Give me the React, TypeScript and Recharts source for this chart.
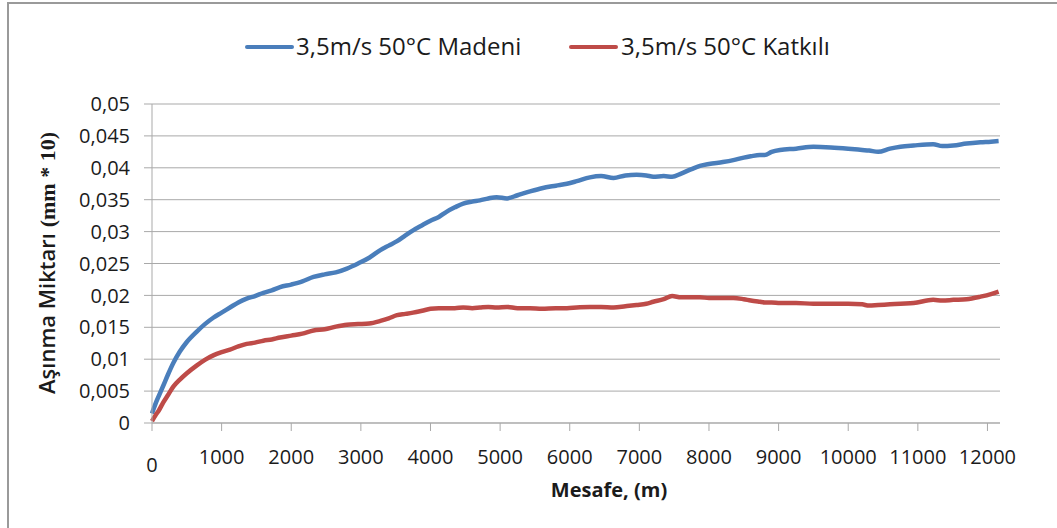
import { LineChart, Line, XAxis, YAxis, CartesianGrid } from 'recharts';

const distance = [
  0, 50, 100, 160, 230, 306, 400, 500, 640, 760, 880, 1000, 1120, 1240, 1360, 1480, 1600, 1720, 1840, 2000,
  2160, 2320, 2480, 2640, 2800, 2960, 3120, 3280, 3400, 3520, 3640, 3750, 3880, 4000, 4120, 4230, 4350, 4470,
  4600, 4710, 4830, 4950, 5100, 5250, 5430, 5600, 5800, 5960, 6100, 6290, 6450, 6630, 6800, 6960, 7100, 7200,
  7350, 7470, 7600, 7750, 7870, 8000, 8200, 8350, 8500, 8600, 8730, 8800, 8900, 9020, 9250, 9500, 9750, 10000,
  10200, 10300, 10430, 10600, 10750, 10940, 11220, 11350, 11510, 11700, 11900, 12050, 12160,
];

const madeni = [
  0.0015, 0.003, 0.0043, 0.0058, 0.0076, 0.0094, 0.0112, 0.0127, 0.0143, 0.0155, 0.0165, 0.0173, 0.0181, 0.0189,
  0.0195, 0.0199, 0.0204, 0.0208, 0.0213, 0.0217, 0.0222, 0.0229, 0.0233, 0.0236, 0.0242, 0.025, 0.0259, 0.0271,
  0.0278, 0.0285, 0.0294, 0.0302, 0.031, 0.0317, 0.0323, 0.0331, 0.0338, 0.0344, 0.0347, 0.0349, 0.0352, 0.0354,
  0.0352, 0.0357, 0.0363, 0.0368, 0.0372, 0.0375, 0.0379, 0.0385, 0.0387, 0.0384, 0.0388, 0.0389, 0.0388, 0.0386,
  0.0387, 0.0386, 0.0391, 0.0398, 0.0403, 0.0406, 0.0409, 0.0412, 0.0416, 0.0418, 0.042, 0.042, 0.0425, 0.0428,
  0.043, 0.0433, 0.0432, 0.043, 0.0428, 0.0427, 0.0425, 0.043, 0.0433, 0.0435, 0.0437, 0.0434, 0.0435, 0.0438,
  0.044, 0.0441, 0.0442,
];

const katkili = [
  0.0003, 0.0012, 0.002, 0.0032, 0.0044, 0.0057, 0.0068, 0.0078, 0.009, 0.0099, 0.0106, 0.0111, 0.0115, 0.012,
  0.0124, 0.0126, 0.0129, 0.0131, 0.0134, 0.0137, 0.014, 0.0145, 0.0147, 0.0151, 0.0154, 0.0155, 0.0156, 0.016,
  0.0164, 0.0169, 0.0171, 0.0173, 0.0176, 0.0179, 0.018, 0.018, 0.018, 0.0181, 0.018, 0.0181, 0.0182, 0.0181,
  0.0182, 0.018, 0.018, 0.0179, 0.018, 0.018, 0.0181, 0.0182, 0.0182, 0.0181, 0.0183, 0.0185, 0.0187, 0.019,
  0.0194, 0.0199, 0.0197, 0.0197, 0.0197, 0.0196, 0.0196, 0.0196, 0.0194, 0.0192, 0.019, 0.0189, 0.0189, 0.0188,
  0.0188, 0.0187, 0.0187, 0.0187, 0.0186, 0.0184, 0.0185, 0.0186, 0.0187, 0.0188, 0.0193, 0.0192, 0.0193, 0.0194,
  0.0198, 0.0202, 0.0206,
];

const seriesNames = ['3,5m/s 50°C Madeni', '3,5m/s 50°C Katkılı'];
const seriesColors = ['#4A7EBB', '#BE4B48'];

const xTicks = [0, 1000, 2000, 3000, 4000, 5000, 6000, 7000, 8000, 9000, 10000, 11000, 12000];
const yTicks = [0, 0.005, 0.01, 0.015, 0.02, 0.025, 0.03, 0.035, 0.04, 0.045, 0.05];

const data = distance.map((d, i) => ({ mesafe: d, madeni: madeni[i], katkili: katkili[i] }));

const FONT = '"Open Sans", sans-serif';
const TEXT = '#1b1b1b';
const GRID = '#a9a9a9';

const XTick = (props: any) => {
  const { x, y, payload } = props;
  const extra = payload.value === 0 ? 8 : 0;
  return (
    <text x={x} y={y + extra} dy="0.71em" textAnchor="middle" fontFamily={FONT} fontSize={20} fill={TEXT}>
      {payload.value}
    </text>
  );
};

const YTitle = () => (
  <text transform="translate(55, 263) rotate(-90)" textAnchor="middle" fill={TEXT} fontSize={22}>
    <tspan fontFamily={FONT} fontWeight={600}>Aşınma Miktarı </tspan>
    <tspan fontFamily='"Liberation Serif", serif' fontWeight={700}>(mm * 10)</tspan>
  </text>
);

export default function App() {
  return (
    <div style={{ position: 'absolute', left: 0, top: 0, width: 1057, height: 528, background: '#fff', overflow: 'hidden' }}>
      <div style={{ position: 'absolute', left: 7, top: 2, width: 1200, height: 700, borderLeft: '2px solid #9a9a9a', borderTop: '2px solid #9a9a9a' }} />
      <div style={{ position: 'absolute', left: 0, top: 0 }}>
        <LineChart width={1057} height={528} data={data} margin={{ top: 104, right: 57, bottom: 0, left: 92 }}>
          <CartesianGrid vertical={false} stroke={GRID} />
          <XAxis
            dataKey="mesafe"
            type="number"
            domain={[0, 12180]}
            ticks={xTicks}
            height={105}
            stroke={GRID}
            tickSize={8}
            tickMargin={19}
            tick={<XTick />}
            interval={0}
          />
          <YAxis
            type="number"
            domain={[0, 0.05]}
            ticks={yTicks}
            width={60}
            stroke={GRID}
            tickSize={8}
            tickMargin={14}
            interval={0}
            tickFormatter={(v: number) => String(v).replace('.', ',')}
            tick={{ fontFamily: FONT, fontSize: 20, fill: TEXT }}
          />
          <Line type="monotone" dataKey="madeni" stroke={seriesColors[0]} strokeWidth={4.5} dot={false} isAnimationActive={false} />
          <Line type="monotone" dataKey="katkili" stroke={seriesColors[1]} strokeWidth={4.5} dot={false} isAnimationActive={false} />
          <text x={609} y={497} textAnchor="middle" fontFamily={FONT} fontWeight={700} fontSize={20} fill={TEXT}>
            Mesafe, (m)
          </text>
          <YTitle />
          <g>
            <line x1={247} x2={292} y1={47} y2={47} stroke={seriesColors[0]} strokeWidth={4} strokeLinecap="round" />
            <text x={296} y={47} dy="0.35em" fontFamily={FONT} fontSize={24} fill={TEXT}>{seriesNames[0]}</text>
            <line x1={571} x2={616} y1={47} y2={47} stroke={seriesColors[1]} strokeWidth={4} strokeLinecap="round" />
            <text x={621} y={47} dy="0.35em" fontFamily={FONT} fontSize={24} fill={TEXT}>{seriesNames[1]}</text>
          </g>
        </LineChart>
      </div>
    </div>
  );
}
